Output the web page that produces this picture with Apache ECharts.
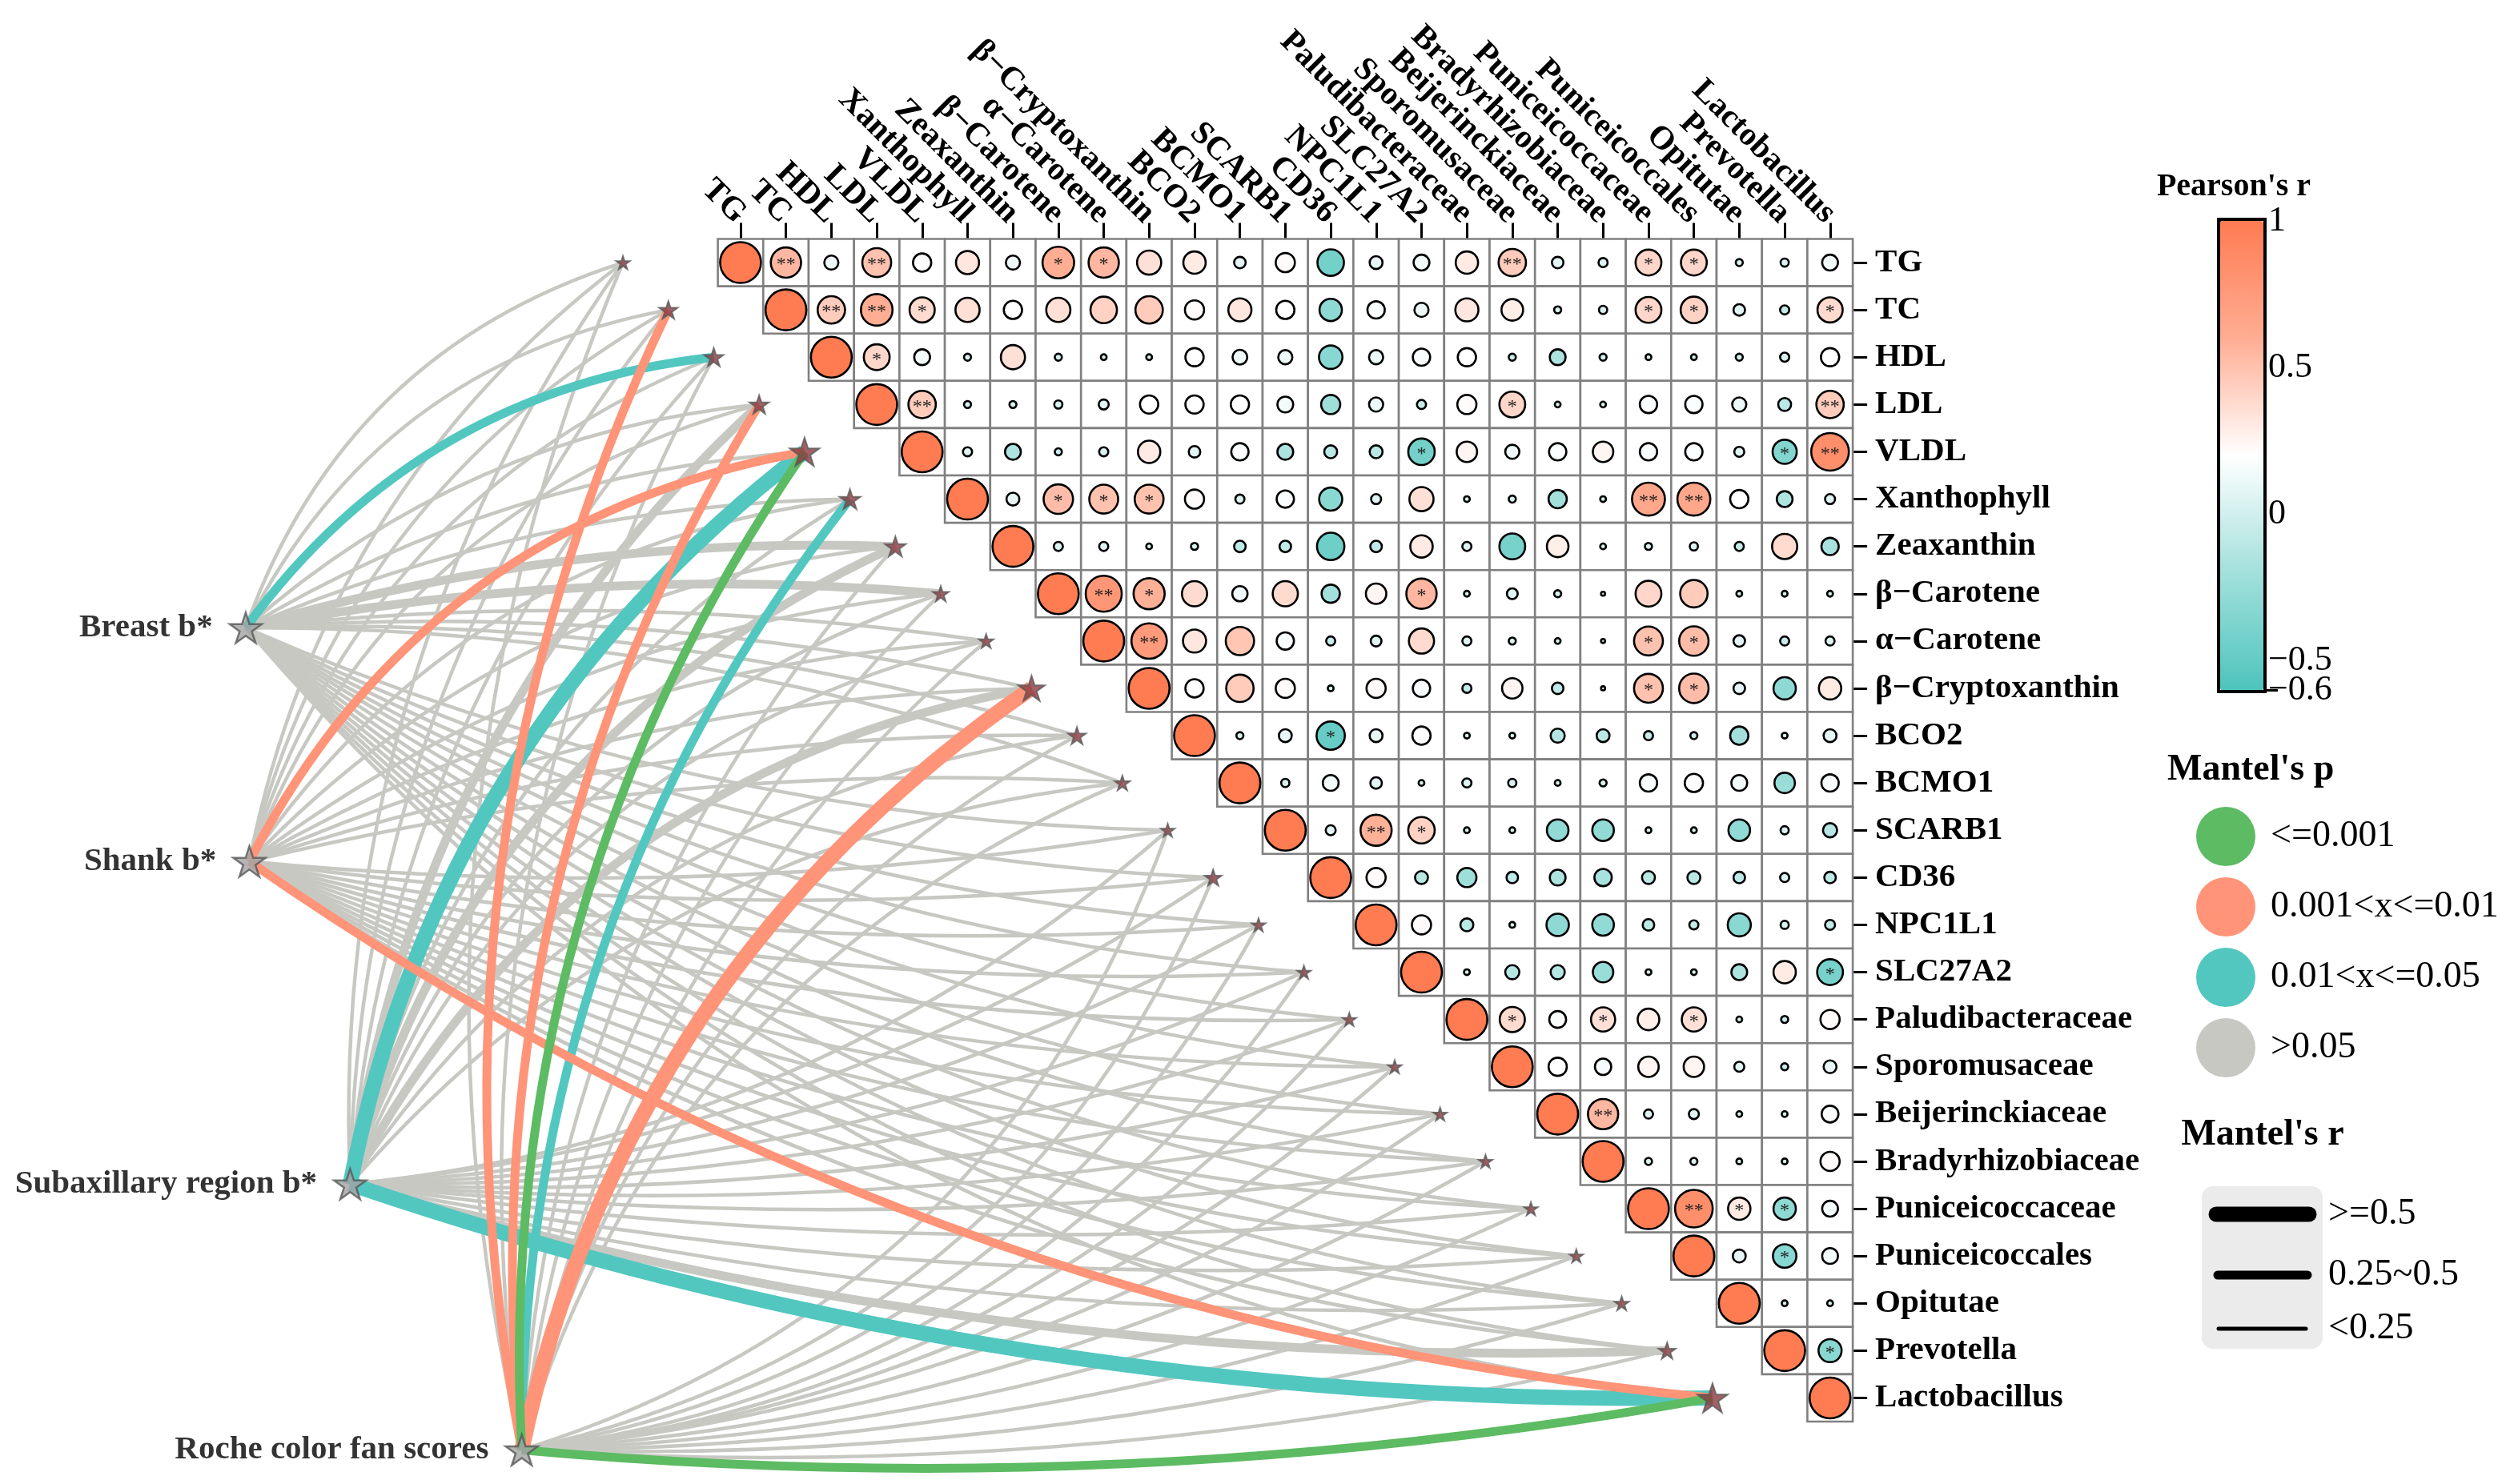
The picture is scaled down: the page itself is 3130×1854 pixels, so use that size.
<!DOCTYPE html>
<html><head><meta charset="utf-8">
<script src="https://cdn.jsdelivr.net/npm/echarts@6.0.0/dist/echarts.min.js"></script>
<style>html,body{margin:0;padding:0;background:#fff;}#c{width:3130px;height:1854px;}</style>
</head><body><div id="c"></div>
<script>
// ================= DATA =================
const variables = ['TG','TC','HDL','LDL','VLDL','Xanthophyll','Zeaxanthin','\u03b2\u2212Carotene','\u03b1\u2212Carotene','\u03b2\u2212Cryptoxanthin','BCO2','BCMO1','SCARB1','CD36','NPC1L1','SLC27A2','Paludibacteraceae','Sporomusaceae','Beijerinckiaceae','Bradyrhizobiaceae','Puniceicoccaceae','Puniceicoccales','Opitutae','Prevotella','Lactobacillus'];

// Pearson's r, upper triangle; each row starts at its own diagonal cell
const rTG        = [1,0.55,0.12,0.5,0.2,0.32,0.12,0.6,0.55,0.35,0.3,0.08,0.22,-0.42,0.1,0.15,0.3,0.45,0.08,0.05,0.4,0.4,0.03,0.04,0.15];
const rTC        = [1,0.45,0.6,0.38,0.35,0.2,0.35,0.42,0.45,0.22,0.32,0.2,-0.3,0.18,0.12,0.32,0.28,0.03,0.04,0.4,0.42,0.08,-0.05,0.38];
const rHDL       = [1,0.4,0.15,0.03,0.35,0.03,0.02,0.02,0.2,0.13,0.12,-0.33,0.12,0.18,0.2,-0.03,-0.15,0.03,0.02,0.02,0.03,0.05,0.2];
const rLDL       = [1,0.45,0.03,0.03,0.04,0.06,0.2,0.2,0.2,0.15,-0.22,0.12,-0.05,0.22,0.4,0.02,0.02,0.18,0.18,0.12,-0.1,0.45];
const rVLDL      = [1,0.05,-0.15,-0.03,0.05,0.3,0.08,0.18,-0.15,-0.1,-0.1,-0.42,0.25,0.12,0.18,0.25,0.18,0.18,0.06,-0.35,0.85];
const rXanth     = [1,0.1,0.52,0.5,0.5,0.22,0.05,0.18,-0.32,0.06,0.35,0.02,0.03,-0.2,0.02,0.65,0.65,0.2,-0.15,0.06];
const rZeax      = [1,0.05,0.05,0.02,0.03,-0.08,-0.08,-0.45,-0.08,0.3,0.05,-0.4,0.28,0.02,0.03,0.04,-0.05,0.38,-0.18];
const rBCar      = [1,0.78,0.58,0.38,0.14,0.38,-0.2,0.25,0.55,0.02,0.07,0.03,0.01,0.4,0.45,0.02,0.02,0.02];
const rACar      = [1,0.75,0.32,0.48,0.18,-0.05,0.07,0.38,0.05,0.03,0.02,0.01,0.5,0.52,0.08,-0.05,0.05];
const rBCry      = [1,0.2,0.45,0.22,0.02,0.22,0.18,-0.05,0.25,-0.08,0.01,0.5,0.52,0.08,-0.3,0.3];
const rBCO2      = [1,0.03,0.1,-0.48,0.1,0.2,0.02,0.02,-0.12,-0.1,-0.05,-0.03,-0.2,0.02,0.1];
const rBCMO1     = [1,0.04,0.15,0.08,0.02,0.05,0.04,0.02,0.03,0.18,0.2,0.15,-0.25,0.18];
const rSCARB1    = [1,0.06,0.58,0.42,0.02,0.02,-0.28,-0.28,0.02,0.02,-0.28,0.04,-0.12];
const rCD36      = [1,0.22,-0.1,-0.22,-0.08,-0.15,-0.18,-0.1,-0.1,-0.08,0.05,-0.08];
const rNPC1L1    = [1,0.22,-0.1,0.02,-0.3,-0.28,-0.08,-0.05,-0.32,0.04,-0.06];
const rSLC27A2   = [1,0.02,-0.12,-0.12,-0.25,0.02,0.02,-0.15,0.3,-0.4];
const rPaludi    = [1,0.38,0.17,0.35,0.28,0.35,0.02,-0.03,0.22];
const rSporo     = [1,0.2,0.16,0.25,0.25,0.06,-0.03,0.1];
const rBeije     = [1,0.55,0.05,0.06,0.02,0.02,0.17];
const rBrady     = [1,0.03,0.03,0.02,0.02,0.22];
const rPunicae   = [1,0.85,0.3,-0.3,0.15];
const rPunicales = [1,0.1,-0.33,0.15];
const rOpitutae  = [1,0.02,0.02];
const rPrevotella= [1,-0.32];
const rLacto     = [1];
const corrRows = [rTG,rTC,rHDL,rLDL,rVLDL,rXanth,rZeax,rBCar,rACar,rBCry,rBCO2,rBCMO1,rSCARB1,rCD36,rNPC1L1,rSLC27A2,rPaludi,rSporo,rBeije,rBrady,rPunicae,rPunicales,rOpitutae,rPrevotella,rLacto];

// significance marks [row, col, mark]
const sigCells = [[0,1,'**'],[0,3,'**'],[0,7,'*'],[0,8,'*'],[0,17,'**'],[0,20,'*'],[0,21,'*'],
  [1,2,'**'],[1,3,'**'],[1,4,'*'],[1,20,'*'],[1,21,'*'],[1,24,'*'],[2,3,'*'],
  [3,4,'**'],[3,17,'*'],[3,24,'**'],[4,15,'*'],[4,23,'*'],[4,24,'**'],
  [5,7,'*'],[5,8,'*'],[5,9,'*'],[5,20,'**'],[5,21,'**'],[7,8,'**'],[7,9,'*'],[7,15,'*'],
  [8,9,'**'],[8,20,'*'],[8,21,'*'],[9,20,'*'],[9,21,'*'],[10,13,'*'],[12,14,'**'],[12,15,'*'],
  [15,24,'*'],[16,17,'*'],[16,19,'*'],[16,21,'*'],[18,19,'**'],[20,21,'**'],[20,22,'*'],[20,23,'*'],
  [21,23,'*'],[23,24,'*']];

const envFactors = ['Breast b*','Shank b*','Subaxillary region b*','Roche color fan scores'];
// Mantel's p class per variable: 0 '<=0.001', 1 '0.001<x<=0.01', 2 '0.01<x<=0.05', 3 '>0.05'
const mantelP_Breast = [3,3,2,3,3,3,3,3,3,3,3,3,3,3,3,3,3,3,3,3,3,3,3,3,3];
const mantelP_Shank  = [3,3,3,3,1,3,3,3,3,3,3,3,3,3,3,3,3,3,3,3,3,3,3,3,1];
const mantelP_Subax  = [3,3,3,3,2,3,3,3,3,3,3,3,3,3,3,3,3,3,3,3,3,3,3,3,2];
const mantelP_Roche  = [3,1,3,1,0,2,3,3,3,1,3,3,3,3,3,3,3,3,3,3,3,3,3,3,0];
// Mantel's r class per variable: 0 '<0.25', 1 '0.25~0.5', 2 '>=0.5'
const mantelR_Breast = [0,0,1,0,0,0,1,1,0,0,0,0,0,0,0,0,0,0,0,0,0,0,0,0,0];
const mantelR_Shank  = [0,0,0,0,1,0,0,0,0,0,0,0,0,0,0,0,0,0,0,0,0,0,0,0,1];
const mantelR_Subax  = [0,0,0,1,2,0,1,0,0,1,0,0,0,0,0,0,0,0,0,0,0,0,0,1,2];
const mantelR_Roche  = [0,1,0,1,1,1,0,0,0,2,0,0,0,0,0,0,0,0,0,0,0,0,0,0,1];

const pClassLabels = ['<=0.001','0.001<x<=0.01','0.01<x<=0.05','>0.05'];
const rClassLabels = ['<0.25','0.25~0.5','>=0.5'];
const colorbarTicksMain = [1, 0.5, 0, -0.5];
const colorbarTicksEnd = [-0.6];
const colorbarRange = [-0.6, 1];

// ================= LAYOUT / STYLE =================
const FONT = "'Liberation Serif','Times New Roman',Times,serif";
const N = variables.length;
const CW = 56.7, CH = 59.1, GX0 = 896.6, GY0 = 298.5;   // matrix cell size and top-left
const X1MIN = -12, X1MAX = 24.5, Y1MIN = -0.5, Y1MAX = 25.8; // link layer extent (cell units)
const envNodePos = [[-10.9, 7.72], [-10.82, 12.66], [-8.60, 19.48], [-4.82, 25.1]];
const VAR_NODE_DX = -2.59;
const starSize = [17,23,24,24,37,26,26,20,18,33,22,19,17,21,17,17,17,17,17,17,17,17,18,21,38];
const pColors = ['#5DBB63','#FF9478','#52C7C0','#C8C8C3'];
const rWidths = [4.5, 11, 19];
const CIRCLE_D = 51;
const paletteColors = ['#4DC4BC','#A3E0DC','#FFFFFF','#FFAD93','#FF7B52'];
const STAR = 'path://M0,-1L0.2245,-0.309L0.951,-0.309L0.363,0.118L0.588,0.809L0,0.382L-0.588,0.809L-0.363,0.118L-0.951,-0.309L-0.2245,-0.309Z';
const curveAng = [0,10,20,30,40,50,60,90];
const curveRatio = [0.03,0.045,0.065,0.11,0.13,0.115,0.09,0.08];
function sagRatio(a){
  for (let k=1;k<curveAng.length;k++){
    if (a<=curveAng[k]){ const t=(a-curveAng[k-1])/(curveAng[k]-curveAng[k-1]); return curveRatio[k-1]+t*(curveRatio[k]-curveRatio[k-1]); }
  }
  return curveRatio[curveRatio.length-1];
}

// ================= BUILD =================
const mantelP = [mantelP_Breast, mantelP_Shank, mantelP_Subax, mantelP_Roche];
const mantelR = [mantelR_Breast, mantelR_Shank, mantelR_Subax, mantelR_Roche];

const cellData = [], circleData = [];
const sigMap = {};
sigCells.forEach(s => { sigMap[s[0]+'_'+s[1]] = s[2]; });
corrRows.forEach((row, i) => {
  row.forEach((v, k) => {
    const j = i + k;
    cellData.push([j, i]);
    circleData.push([j, i, v, sigMap[i+'_'+j] ? sigMap[i+'_'+j].length : 0]);
  });
});

function linkData(pc){
  const out = [];
  for (let rc=0; rc<3; rc++)
    for (let e=0; e<envFactors.length; e++)
      for (let i=0; i<N; i++)
        if (mantelP[e][i]===pc && mantelR[e][i]===rc)
          out.push([envNodePos[e][0], envNodePos[e][1], i+VAR_NODE_DX, i, rc, i<12?1:0]);
  return out;
}
function linkSeries(pc){
  return {
    type:'custom', name:pClassLabels[pc], xAxisIndex:1, yAxisIndex:1, clip:false, silent:true, z:1,
    itemStyle:{color:pColors[pc]},
    data: linkData(pc),
    renderItem:(params, api) => {
      const p0 = api.coord([api.value(0), api.value(1)]);
      const p1 = api.coord([api.value(2), api.value(3)]);
      const rc = api.value(4), up = api.value(5);
      const dx = p1[0]-p0[0], dy = p1[1]-p0[1];
      const L = Math.hypot(dx, dy);
      const ang = Math.atan(Math.abs(dy)/Math.max(Math.abs(dx),1e-6))*180/Math.PI;
      const h = 2*sagRatio(ang)*L;
      let nx, ny;
      if (up) { nx = dy/L; ny = -dx/L; } else { nx = -dy/L; ny = dx/L; }
      const cx = (p0[0]+p1[0])/2 + nx*h, cy = (p0[1]+p1[1])/2 + ny*h;
      return {type:'bezierCurve', shape:{x1:p0[0],y1:p0[1],x2:p1[0],y2:p1[1],cpx1:cx,cpy1:cy},
              style:{stroke:pColors[pc], lineWidth:rWidths[rc], fill:null, lineCap:'butt'}};
    }
  };
}

const varNodeData = variables.map((v,i) => ({value:[i+VAR_NODE_DX, i], symbolSize:starSize[i]}));
const envNodeData = envFactors.map((n,e) => ({value:[envNodePos[e][0], envNodePos[e][1]], name:n}));

const cbPad = 2/366;
const cbLabelFmt = v => (v<0 ? '\u2212'+String(Math.abs(v)) : String(v));
function colorbarAxis(ticks){
  return {gridIndex:2, type:'value', min:colorbarRange[0]-cbPad, max:colorbarRange[1]+cbPad, position:'right', offset:0,
    axisLine:{show:false}, splitLine:{show:false},
    axisTick:{show:true, customValues:ticks, length:16, lineStyle:{color:'#000', width:3}},
    axisLabel:{show:true, customValues:ticks, showMinLabel:true, showMaxLabel:true,
      margin:4, color:'#000', fontFamily:FONT, fontSize:44, formatter:cbLabelFmt}};
}
const option = {
  backgroundColor:'#fff',
  animation:false,
  grid:[
    {left:GX0, top:GY0, width:N*CW, height:N*CH, outerBoundsMode:'none', containLabel:false},
    {left:GX0+(X1MIN+0.5)*CW, top:GY0+(Y1MIN+0.5)*CH, width:(X1MAX-X1MIN)*CW, height:(Y1MAX-Y1MIN)*CH, outerBoundsMode:'none', containLabel:false},
    {left:2771, top:274, width:58, height:590, show:true, borderColor:'#000', borderWidth:4, backgroundColor:'transparent', outerBoundsMode:'none', containLabel:false}
  ],
  xAxis:[
    {gridIndex:0, type:'category', data:variables, position:'top', boundaryGap:true,
     axisLine:{show:false}, splitLine:{show:false},
     axisTick:{show:true, alignWithLabel:true, length:20, lineStyle:{color:'#000', width:3}},
     axisLabel:{interval:0, rotate:45, margin:26, color:'#000', fontFamily:FONT, fontWeight:'bold', fontSize:41}},
    {gridIndex:1, type:'value', min:X1MIN, max:X1MAX, show:false},
    {gridIndex:2, type:'value', min:0, max:1, show:false}
  ],
  yAxis:[
    {gridIndex:0, type:'category', data:variables, inverse:true, position:'right', boundaryGap:true,
     axisLine:{show:false}, splitLine:{show:false},
     axisTick:{show:true, alignWithLabel:true, length:18, lineStyle:{color:'#000', width:3}},
     axisLabel:{interval:0, margin:28, color:'#000', fontFamily:FONT, fontWeight:'bold', fontSize:41}},
    {gridIndex:1, type:'value', min:Y1MIN, max:Y1MAX, inverse:true, show:false},
    colorbarAxis(colorbarTicksMain),
    colorbarAxis(colorbarTicksEnd)
  ],
  visualMap:{type:'continuous', seriesIndex:5, dimension:2, min:colorbarRange[0], max:colorbarRange[1],
    inRange:{color:paletteColors}, calculable:false, orient:'vertical',
    left:2773, top:276, itemWidth:54, itemHeight:586, padding:0, showLabel:false, hoverLink:false},
  legend:{data:pClassLabels, orient:'vertical', left:2738, top:1003, icon:'circle', itemWidth:74, itemHeight:74,
    itemGap:14, selectedMode:false, textStyle:{fontFamily:FONT, fontSize:46, color:'#000', padding:[0,0,0,14]}},
  graphic:[
    {type:'text', x:2790, y:234, style:{text:"Pearson's r", font:'bold 40px '+FONT, fill:'#000', align:'center', verticalAlign:'middle'}},
    {type:'text', x:2707, y:962, style:{text:"Mantel's p", font:'bold 46px '+FONT, fill:'#000', align:'left', verticalAlign:'middle'}},
    {type:'text', x:2826, y:1418, style:{text:"Mantel's r", font:'bold 46px '+FONT, fill:'#000', align:'center', verticalAlign:'middle'}},
    {type:'rect', shape:{x:2750, y:1482, width:151, height:203, r:14}, style:{fill:'#EBEBEB'}},
    {type:'line', shape:{x1:2768, y1:1517, x2:2884, y2:1517}, style:{stroke:'#000', lineWidth:rWidths[2], lineCap:'round'}},
    {type:'line', shape:{x1:2770, y1:1593, x2:2882, y2:1593}, style:{stroke:'#000', lineWidth:rWidths[1], lineCap:'round'}},
    {type:'line', shape:{x1:2771, y1:1660, x2:2880, y2:1660}, style:{stroke:'#000', lineWidth:rWidths[0]+0.5, lineCap:'round'}},
    {type:'text', x:2908, y:1517, style:{text:rClassLabels[2], font:'46px '+FONT, fill:'#000', align:'left', verticalAlign:'middle'}},
    {type:'text', x:2908, y:1593, style:{text:rClassLabels[1], font:'46px '+FONT, fill:'#000', align:'left', verticalAlign:'middle'}},
    {type:'text', x:2908, y:1660, style:{text:rClassLabels[0], font:'46px '+FONT, fill:'#000', align:'left', verticalAlign:'middle'}}
  ],
  series:[
    linkSeries(3), linkSeries(2), linkSeries(1), linkSeries(0),
    {type:'custom', name:'cells', xAxisIndex:0, yAxisIndex:0, silent:true, z:2, data:cellData,
     renderItem:(params, api) => {
       const c = api.coord([api.value(0), api.value(1)]);
       const s = api.size([1,1]);
       return {type:'rect', shape:{x:c[0]-s[0]/2, y:c[1]-s[1]/2, width:s[0], height:s[1]},
               style:{fill:'#fff', stroke:'#808080', lineWidth:2.6}};
     }},
    {type:'scatter', name:'pearson', xAxisIndex:0, yAxisIndex:0, z:3, silent:true, data:circleData,
     symbol:'circle', symbolSize: v => CIRCLE_D*Math.sqrt(Math.abs(v[2])),
     itemStyle:{borderColor:'#000', borderWidth:2.6, opacity:1},
     label:{show:true, position:'inside', formatter: p => (p.data[3]===2?'**':(p.data[3]===1?'*':'')),
       color:'#222', fontFamily:FONT, fontSize:24, offset:[0,3]}},
    {type:'scatter', name:'varNodes', xAxisIndex:1, yAxisIndex:1, z:4, silent:true, clip:false, data:varNodeData,
     symbol:STAR, symbolKeepAspect:true, itemStyle:{color:'#8B3A40', borderColor:'#5A5A5A', borderWidth:2}},
    {type:'scatter', name:'envNodes', xAxisIndex:1, yAxisIndex:1, z:4, silent:true, clip:false, data:envNodeData,
     symbol:STAR, symbolSize:40, symbolKeepAspect:true, itemStyle:{color:'#A3A3A3', borderColor:'#585858', borderWidth:2.5},
     label:{show:true, position:'left', distance:20, formatter: p => p.name, color:'#000', fontFamily:FONT, fontWeight:'bold', fontSize:41}}
  ]
};
const chart = echarts.init(document.getElementById('c'), null, {renderer:'canvas', width:3130, height:1854});
chart.setOption(option);
</script></body></html>
